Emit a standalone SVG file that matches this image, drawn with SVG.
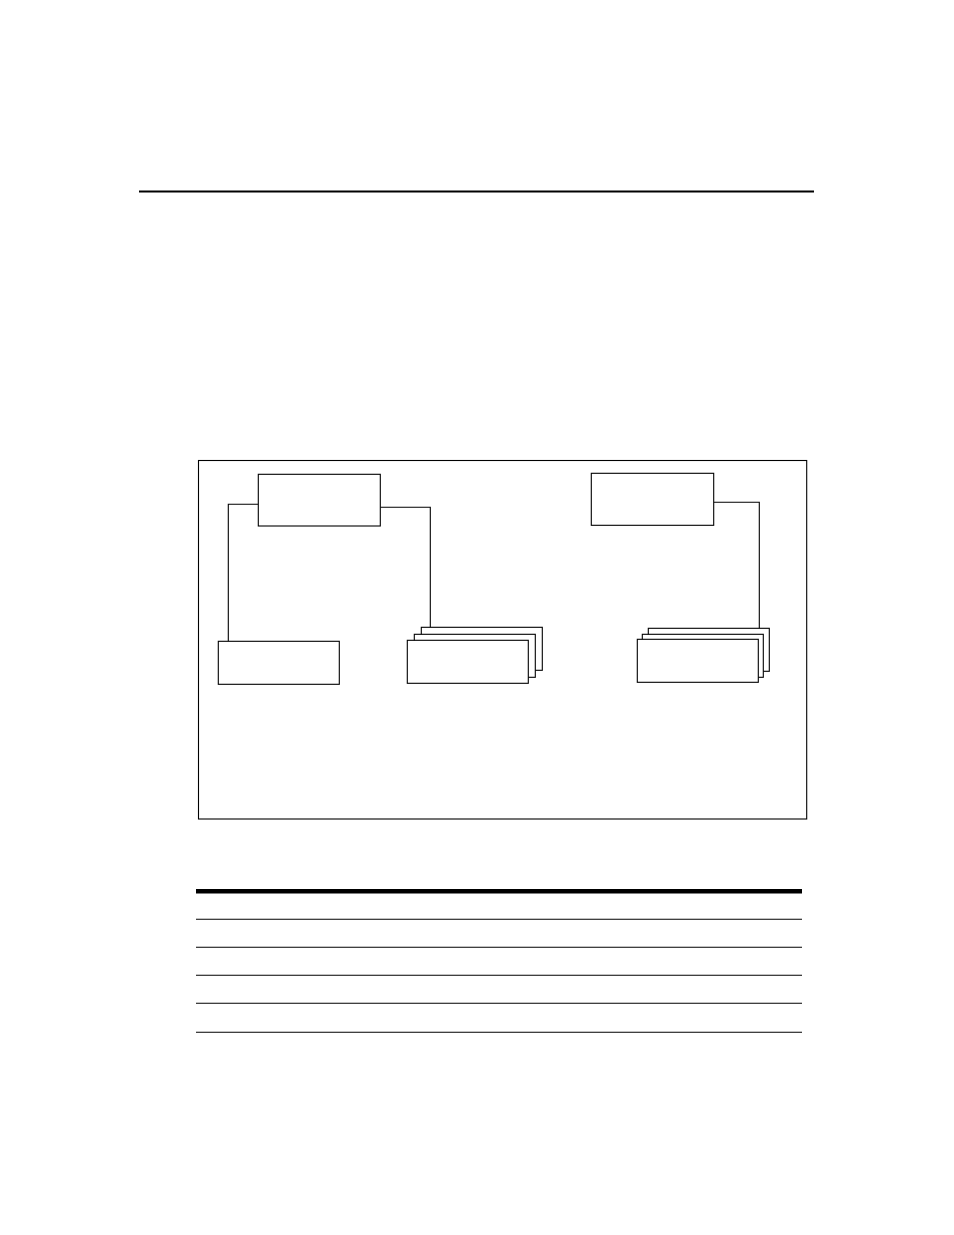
<svg xmlns="http://www.w3.org/2000/svg" width="954" height="1235" viewBox="0 0 954 1235">
<style>
.box{fill:#fff;stroke:#000;stroke-width:1.1}
.conn{fill:none;stroke:#000;stroke-width:1.1}
.rule{stroke:#000;stroke-width:1.1}
</style>
<rect width="954" height="1235" fill="#fff"/>
<line x1="139" y1="191.5" x2="814" y2="191.5" stroke="#000" stroke-width="2.2"/>
<g id="frame"><rect x="198.5" y="460.5" width="608.2" height="358.5" fill="none" stroke="#000" stroke-width="1.1"/></g>
<g id="connectors">
<polyline class="conn" points="258.3,504.3 228.3,504.3 228.3,641.3"/>
<polyline class="conn" points="380.3,507.3 430.3,507.3 430.3,627.3"/>
<polyline class="conn" points="713.7,502.3 759.3,502.3 759.3,628.3"/>
</g>
<g id="nodeA"><rect class="box" x="258.3" y="474.3" width="122" height="51.7"/></g>
<g id="nodeB"><rect class="box" x="218.3" y="641.3" width="121" height="43"/></g>
<g id="nodeC">
<rect class="box" x="421.3" y="627.3" width="121" height="43"/>
<rect class="box" x="414.3" y="634.3" width="121" height="43"/>
<rect class="box" x="407.3" y="640.3" width="121" height="43"/>
</g>
<g id="nodeD"><rect class="box" x="591.3" y="473.3" width="122.4" height="52"/></g>
<g id="nodeE">
<rect class="box" x="648.3" y="628.3" width="121" height="43"/>
<rect class="box" x="642.3" y="634.3" width="121" height="43"/>
<rect class="box" x="637.3" y="639.3" width="121" height="43"/>
</g>
<g id="table">
<rect x="196" y="889" width="606" height="4.5" fill="#000"/>
<line class="rule" x1="196" y1="919.3" x2="802" y2="919.3"/>
<line class="rule" x1="196" y1="947.3" x2="802" y2="947.3"/>
<line class="rule" x1="196" y1="975.3" x2="802" y2="975.3"/>
<line class="rule" x1="196" y1="1003.3" x2="802" y2="1003.3"/>
<line class="rule" x1="196" y1="1032.3" x2="802" y2="1032.3"/>
</g>
</svg>
